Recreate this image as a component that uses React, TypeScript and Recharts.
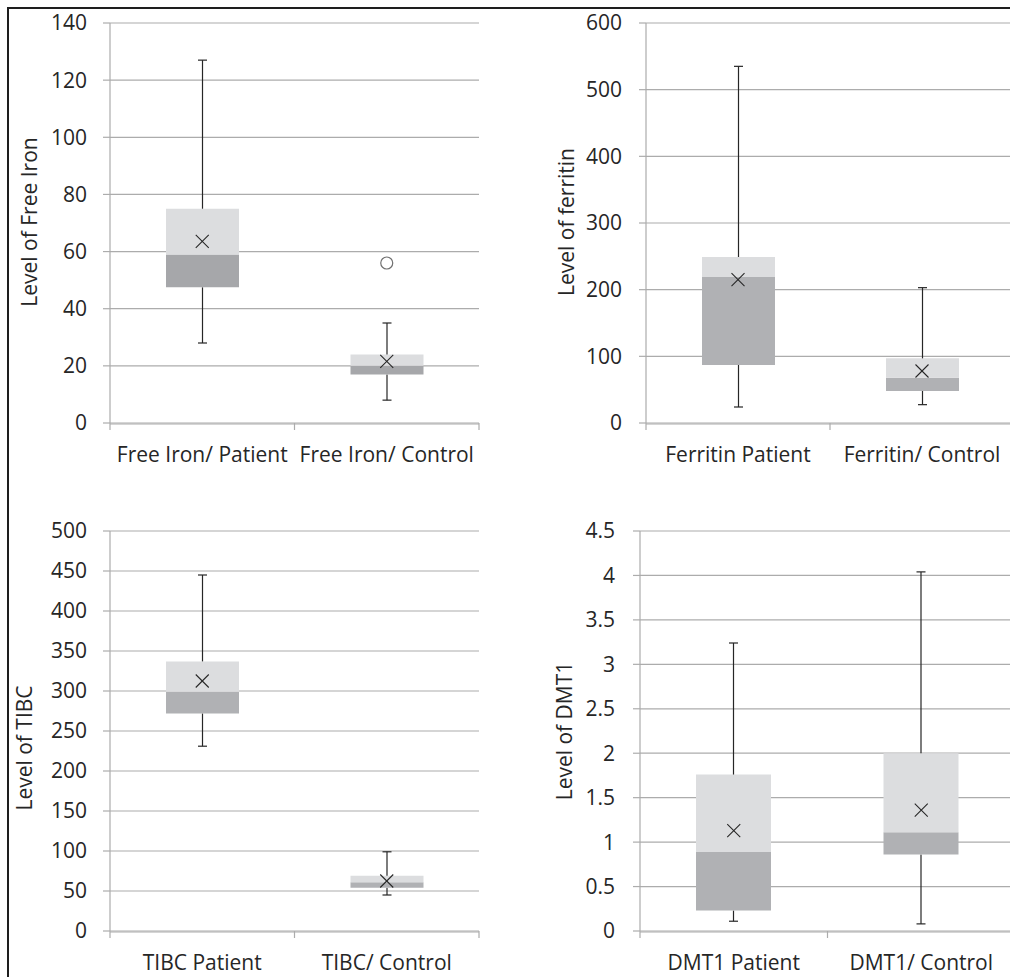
import React from 'react';
import { ComposedChart, Bar, Line, XAxis, YAxis, CartesianGrid } from 'recharts';

const FONT = '"Open Sans", sans-serif';
const FS = 21;
const TEXT = '#262626';
const GRID = '#acacac';
const INK = '#262626';
const LIGHT = '#dcdddf';

// Panel 1: Free Iron
const ironCats = ['Free Iron/ Patient', 'Free Iron/ Control'];
const ironMin = [28, 8];
const ironQ1 = [47.5, 17];
const ironMedian = [59, 20];
const ironQ3 = [75, 24];
const ironMax = [127, 35];
const ironMean = [63.6, 21.6];
const ironOutlier = [null, 56];
const ironTicks = [0, 20, 40, 60, 80, 100, 120, 140];

// Panel 2: Ferritin
const ferCats = ['Ferritin Patient', 'Ferritin/ Control'];
const ferMin = [24, 27.5];
const ferQ1 = [87, 48];
const ferMedian = [219, 68];
const ferQ3 = [249, 97];
const ferMax = [535, 203];
const ferMean = [215, 78];
const ferOutlier = [null, null];
const ferTicks = [0, 100, 200, 300, 400, 500, 600];

// Panel 3: TIBC
const tibcCats = ['TIBC Patient', 'TIBC/ Control'];
const tibcMin = [231, 45];
const tibcQ1 = [272, 54];
const tibcMedian = [299, 61];
const tibcQ3 = [337, 69];
const tibcMax = [445, 99];
const tibcMean = [312.5, 62.5];
const tibcOutlier = [null, null];
const tibcTicks = [0, 50, 100, 150, 200, 250, 300, 350, 400, 450, 500];

// Panel 4: DMT1
const dmtCats = ['DMT1 Patient', 'DMT1/ Control'];
const dmtMin = [0.11, 0.08];
const dmtQ1 = [0.23, 0.86];
const dmtMedian = [0.89, 1.11];
const dmtQ3 = [1.76, 2.0];
const dmtMax = [3.24, 4.04];
const dmtMean = [1.13, 1.36];
const dmtOutlier = [null, null];
const dmtTicks = [0, 0.5, 1, 1.5, 2, 2.5, 3, 3.5, 4, 4.5];

const boundaryTicks = [0, 1, 2];

function buildRows(cats: string[], mn: number[], q1: number[], med: number[], q3: number[], mx: number[], mean: number[], out: (number | null)[]) {
  return cats.map((name, i) => ({
    name,
    pos: i + 0.5,
    base: mn[i],
    wLow: q1[i] - mn[i],
    boxLow: med[i] - q1[i],
    boxHigh: q3[i] - med[i],
    wHigh: mx[i] - q3[i],
    mean: mean[i],
    outlier: out[i],
  }));
}

const WhiskerLow = (p: any) => {
  const { x, y, width, height } = p;
  if (x == null || y == null) return null;
  const cx = x + width / 2;
  const yb = y + height;
  return (
    <g>
      <line x1={cx} y1={y} x2={cx} y2={yb} stroke={INK} strokeWidth={1.2} />
      <line x1={cx - 4.5} y1={yb} x2={cx + 4.5} y2={yb} stroke={INK} strokeWidth={1.2} />
    </g>
  );
};

const WhiskerHigh = (p: any) => {
  const { x, y, width, height } = p;
  if (x == null || y == null) return null;
  const cx = x + width / 2;
  return (
    <g>
      <line x1={cx} y1={y} x2={cx} y2={y + height} stroke={INK} strokeWidth={1.2} />
      <line x1={cx - 4.5} y1={y} x2={cx + 4.5} y2={y} stroke={INK} strokeWidth={1.2} />
    </g>
  );
};

const Empty = () => null;

const MeanDot = (p: any) => {
  const { cx, cy, payload, index } = p;
  if (cx == null || cy == null || payload == null || payload.mean == null) return <g key={`m${index}`} />;
  const s = 6.5;
  return (
    <g key={`m${index}`}>
      <line x1={cx - s} y1={cy - s} x2={cx + s} y2={cy + s} stroke={INK} strokeWidth={1.1} />
      <line x1={cx - s} y1={cy + s} x2={cx + s} y2={cy - s} stroke={INK} strokeWidth={1.1} />
    </g>
  );
};

const OutlierDot = (p: any) => {
  const { cx, cy, payload, index } = p;
  if (cx == null || cy == null || payload == null || payload.outlier == null) return <g key={`o${index}`} />;
  return <circle key={`o${index}`} cx={cx} cy={cy} r={6} fill="#fff" stroke="#707070" strokeWidth={1.2} />;
};

const BlankTick = () => <g />;

type PanelProps = {
  left: number;
  top: number;
  width: number;
  height: number;
  margin: { top: number; right: number; bottom: number; left: number };
  xHeight: number;
  yWidth: number;
  rows: any[];
  ticks: number[];
  label: string;
  labelX: number;
  labelShift: number;
  barSize: number;
  dark: string;
  yTickMargin: number;
};

function Panel(props: PanelProps) {
  const { left, top, width, height, margin, xHeight, yWidth, rows, ticks, label, labelX, labelShift, barSize, dark, yTickMargin } = props;
  const domainMax = ticks[ticks.length - 1];
  const labelContent = (lp: any) => {
    const vb = lp.viewBox || {};
    const tx = (vb.x || 0) + labelX;
    const ty = (vb.y || 0) + (vb.height || 0) / 2 + labelShift;
    return (
      <text
        x={tx}
        y={ty}
        dy="0.36em"
        transform={`rotate(-90 ${tx} ${ty})`}
        textAnchor="middle"
        fontFamily={FONT}
        fontSize={FS}
        fill={TEXT}
      >
        {label}
      </text>
    );
  };
  return (
    <div style={{ position: 'absolute', left, top, width, height }}>
      <ComposedChart width={width} height={height} data={rows} margin={margin}>
        <CartesianGrid horizontal vertical={false} stroke={GRID} strokeWidth={1.2} xAxisId="b" />
        <XAxis
          xAxisId="a"
          dataKey="pos"
          type="number"
          domain={[0, 2]}
          ticks={boundaryTicks}
          allowDataOverflow
          tick={BlankTick}
          tickSize={7}
          tickLine={{ stroke: GRID, strokeWidth: 1.2 }}
          axisLine={false}
          height={1}
        />
        <XAxis
          xAxisId="b"
          dataKey="name"
          type="category"
          interval={0}
          height={xHeight}
          tickLine={false}
          tickSize={0}
          tickMargin={23}
          axisLine={{ stroke: GRID, strokeWidth: 1.2 }}
          tick={{ fontFamily: FONT, fontSize: FS, fill: TEXT }}
        />
        <YAxis
          type="number"
          domain={[0, domainMax]}
          ticks={ticks}
          interval={0}
          width={yWidth}
          tickSize={7}
          tickMargin={yTickMargin}
          tickLine={{ stroke: GRID, strokeWidth: 1.2 }}
          axisLine={{ stroke: GRID, strokeWidth: 1.2 }}
          tick={{ fontFamily: FONT, fontSize: FS, fill: TEXT }}
          label={{ content: labelContent }}
        />
        <Bar xAxisId="b" dataKey="base" stackId="s" barSize={barSize} shape={Empty} isAnimationActive={false} />
        <Bar xAxisId="b" dataKey="wLow" stackId="s" barSize={barSize} shape={WhiskerLow} isAnimationActive={false} />
        <Bar xAxisId="b" dataKey="boxLow" stackId="s" barSize={barSize} fill={dark} isAnimationActive={false} />
        <Bar xAxisId="b" dataKey="boxHigh" stackId="s" barSize={barSize} fill={LIGHT} isAnimationActive={false} />
        <Bar xAxisId="b" dataKey="wHigh" stackId="s" barSize={barSize} shape={WhiskerHigh} isAnimationActive={false} />
        <Line xAxisId="b" dataKey="mean" stroke="none" dot={MeanDot} activeDot={false} isAnimationActive={false} />
        <Line xAxisId="b" dataKey="outlier" stroke="none" dot={OutlierDot} activeDot={false} isAnimationActive={false} />
      </ComposedChart>
    </div>
  );
}

export default function App() {
  const ironRows = buildRows(ironCats, ironMin, ironQ1, ironMedian, ironQ3, ironMax, ironMean, ironOutlier);
  const ferRows = buildRows(ferCats, ferMin, ferQ1, ferMedian, ferQ3, ferMax, ferMean, ferOutlier);
  const tibcRows = buildRows(tibcCats, tibcMin, tibcQ1, tibcMedian, tibcQ3, tibcMax, tibcMean, tibcOutlier);
  const dmtRows = buildRows(dmtCats, dmtMin, dmtQ1, dmtMedian, dmtQ3, dmtMax, dmtMean, dmtOutlier);
  return (
    <div style={{ position: 'absolute', left: 0, top: 0, width: 1010, height: 977, overflow: 'hidden', background: '#fff' }}>
      <Panel left={0} top={0} width={505} height={480} margin={{ top: 23, right: 26, bottom: 0, left: 0 }} xHeight={56} yWidth={110}
        rows={ironRows} ticks={ironTicks} label="Level of Free Iron" labelX={29} labelShift={-1} barSize={73} dark="#a6a7aa" yTickMargin={16} />
      <Panel left={505} top={0} width={520} height={480} margin={{ top: 23, right: 11, bottom: 0, left: 0 }} xHeight={56} yWidth={141}
        rows={ferRows} ticks={ferTicks} label="Level of ferritin" labelX={61} labelShift={-1} barSize={73} dark="#b0b1b4" yTickMargin={17} />
      <Panel left={0} top={480} width={505} height={497} margin={{ top: 51, right: 26, bottom: 0, left: 0 }} xHeight={45} yWidth={110}
        rows={tibcRows} ticks={tibcTicks} label="Level of TIBC" labelX={24.5} labelShift={17} barSize={73} dark="#b0b1b4" yTickMargin={16} />
      <Panel left={505} top={480} width={520} height={497} margin={{ top: 51, right: 10, bottom: 0, left: 0 }} xHeight={45} yWidth={135}
        rows={dmtRows} ticks={dmtTicks} label="Level of DMT1" labelX={59.5} labelShift={0} barSize={75} dark="#b0b1b4" yTickMargin={18} />
      <div style={{ position: 'absolute', left: 7, top: 7, width: 1010, height: 977, borderTop: '2px solid #1e1e1e', borderLeft: '2px solid #1e1e1e', boxSizing: 'border-box' }} />
    </div>
  );
}
